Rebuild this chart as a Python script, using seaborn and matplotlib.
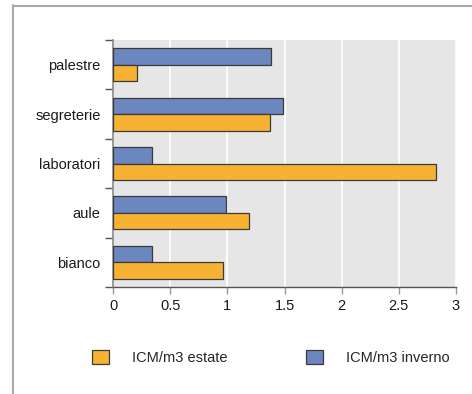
import matplotlib
matplotlib.use("Agg")
import matplotlib.pyplot as plt
from matplotlib.patches import Patch
from matplotlib.lines import Line2D
from matplotlib.ticker import FixedLocator, MultipleLocator, FormatStrFormatter
import seaborn as sns
import pandas as pd

categories = ["palestre", "segreterie", "laboratori", "aule", "bianco"]
inverno = [1.385, 1.485, 0.338, 0.986, 0.338]
estate = [0.207, 1.373, 2.826, 1.193, 0.960]
series = ["ICM/m3 inverno", "ICM/m3 estate"]
colors = {"ICM/m3 inverno": "#6C87BF", "ICM/m3 estate": "#F7B234"}

df = pd.DataFrame({
    "categoria": categories * 2,
    "valore": inverno + estate,
    "serie": [series[0]] * len(categories) + [series[1]] * len(categories),
})

sns.set_theme(style="white")
plt.rcParams["font.family"] = ["Liberation Sans", "DejaVu Sans"]

fig = plt.figure(figsize=(4.72, 3.94), dpi=100)
ax = fig.add_axes([113 / 472, (394 - 287) / 394, (456 - 113) / 472, (287 - 40) / 394])
ax.set_facecolor("#E6E6E6")

sns.barplot(data=df, x="valore", y="categoria", hue="serie", order=categories,
            hue_order=series, palette=colors, saturation=1, orient="h", width=0.67,
            edgecolor="#3A3A3A", linewidth=0.9, ax=ax, legend=False, zorder=3)

ax.set_xlim(0, 3)
ax.set_ylim(4.5, -0.5)
ax.xaxis.set_major_locator(MultipleLocator(0.5))
ax.xaxis.set_major_formatter(FormatStrFormatter("%g"))
ax.grid(axis="x", color="white", linewidth=1.2, zorder=0)
ax.set_axisbelow(True)
ax.set_xlabel("")
ax.set_ylabel("")

ax.yaxis.set_minor_locator(FixedLocator([-0.5, 0.5, 1.5, 2.5, 3.5, 4.5]))
ax.tick_params(axis="y", which="major", length=0, labelsize=10.5, pad=9, colors="#1a1a1a")
ax.tick_params(axis="y", which="minor", length=6, width=1, color="#555555", left=True)
ax.tick_params(axis="x", which="major", length=5, width=1, color="#999999",
               labelsize=10.5, pad=4, labelcolor="#1a1a1a", bottom=True)

for side in ("top", "right"):
    ax.spines[side].set_visible(False)
ax.spines["left"].set_color("#888888")
ax.spines["left"].set_linewidth(1.2)
ax.spines["bottom"].set_color("#555555")
ax.spines["bottom"].set_linewidth(1)

handles = [Patch(facecolor=colors["ICM/m3 estate"], edgecolor="#3A3A3A", linewidth=0.9,
                 label="ICM/m3 estate"),
           Patch(facecolor=colors["ICM/m3 inverno"], edgecolor="#3A3A3A", linewidth=0.9,
                 label="ICM/m3 inverno")]
fig.legend(handles=handles, loc="center left", bbox_to_anchor=(92 / 472, (394 - 357.5) / 394),
           ncol=2, frameon=False, fontsize=10.5, handlelength=1.15, handleheight=1.15,
           handletextpad=1.6, columnspacing=5.4, borderpad=0, borderaxespad=0)

# outer frame (left and top edges)
fig.add_artist(Line2D([13 / 472, 13 / 472], [0, (394 - 5) / 394], color="#AAAAAA",
                      linewidth=1.5, transform=fig.transFigure))
fig.add_artist(Line2D([13 / 472, 1], [(394 - 5.5) / 394, (394 - 5.5) / 394], color="#AAAAAA",
                      linewidth=1.5, transform=fig.transFigure))

fig.savefig("out.png", dpi=100)
